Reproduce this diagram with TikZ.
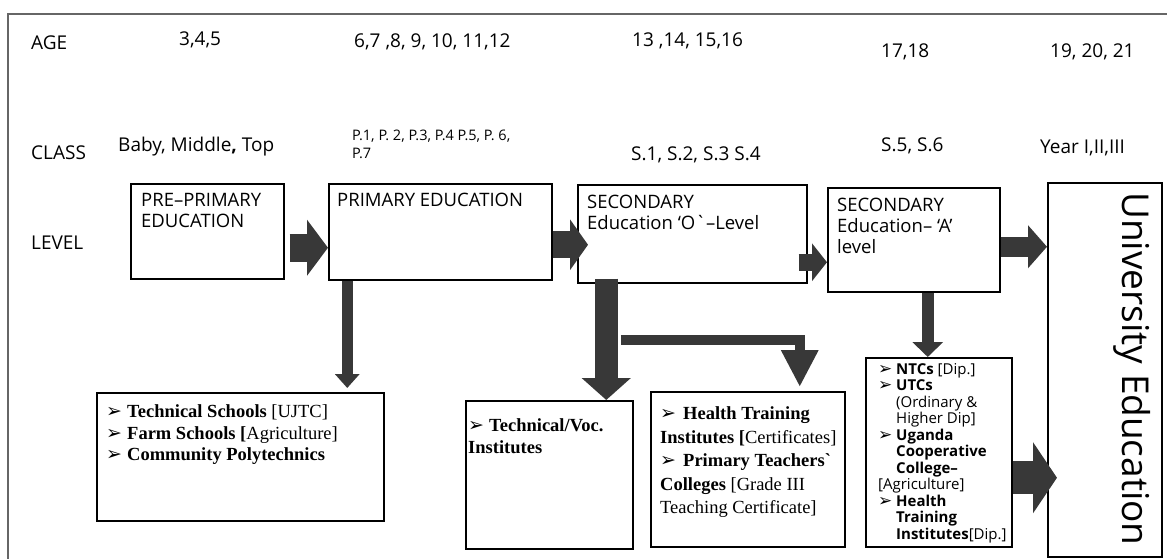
\documentclass[tikz,border=0pt]{standalone}
\usepackage{fontspec}
\setmainfont{Open Sans}[Ligatures=TeXOff]
\newfontfamily\timesfont{Liberation Serif}[Ligatures=TeXOff]
\newfontfamily\bulfont{DejaVu Sans}
\usetikzlibrary{arrows.meta,positioning}
\definecolor{arrowgray}{gray}{0.22}
\definecolor{framegray}{gray}{0.4}
\newcommand\bul[2][18pt]{\makebox[#1][l]{\bulfont\fontsize{#2}{#2}\selectfont ➢}}
\tikzset{
  lvlbox/.style={draw, line width=1.5pt, inner sep=0pt, anchor=north west},
  rowlabel/.style={anchor=west, inner sep=0pt, font=\fontsize{19}{20}\selectfont},
  boxtext/.style={align=left, inner sep=0pt, font=\fontsize{18.5}{21}\selectfont},
  serifbox/.style={align=left, inner sep=0pt, font=\timesfont\fontsize{18.5}{21.5}\selectfont},
  fat/.style n args={3}{arrowgray, line width=#1, -{Triangle[length=#2, width=#3]}},
}

\begin{document}
\begin{tikzpicture}[x=1pt, y=-1pt]
        \useasboundingbox (0,0) rectangle (1167,559);
        % Frame
        \draw[framegray, line width=1.2pt] (1167,14) -- (8,14) -- (8,559);

        % Ages
        \node[rowlabel] (age) at (31,43) {AGE};
        \node[rowlabel] (age-pre) at (179,40) {3,4,5};
        \node[rowlabel] (age-pri) at (354,42) {6,7 ,8, 9, 10, 11,12};
        \node[rowlabel] (age-o) at (632,41) {13 ,14, 15,16};
        \node[rowlabel] (age-a) at (881,52) {17,18};
        \node[rowlabel] (age-uni) at (1050,52) {19, 20, 21};

        % Classes
        \node[rowlabel] (class) at (31,153) {CLASS};
        \node[rowlabel] (cls-pre) at (118,147) {Baby, Middle\textbf{,} Top};
        \node[anchor=north west, align=left, inner sep=0pt, font=\fontsize{14.5}{18}\selectfont] (cls-pri) at (352,130) {P.1, P. 2, P.3, P.4 P.5, P. 6,\\P.7};
        \node[rowlabel] (cls-o) at (631,155) {S.1, S.2, S.3 S.4};
        \node[rowlabel] (cls-a) at (881,146) {S.5, S.6};
        \node[rowlabel] (cls-uni) at (1040,148) {Year I,II,III};

        % The levels
        \node[rowlabel] (level) at (31,243) {LEVEL};
        \node[lvlbox, minimum width=153pt, minimum height=95pt] (pre) at (130,183) {};
        \node[boxtext, below right=10pt and 11pt of pre.north west] (pre-t) {PRE–PRIMARY\\EDUCATION};
        \node[lvlbox, minimum width=223pt, minimum height=96pt] (pri) at (328,183) {};
        \node[boxtext, below right=10pt and 9pt of pri.north west] (pri-t) {PRIMARY EDUCATION};
        \node[lvlbox, minimum width=229pt, minimum height=98pt] (olev) at (577,184) {};
        \node[boxtext, below right=11pt and 10pt of olev.north west] (olev-t) {SECONDARY\\Education ‘O`–Level};
        \node[lvlbox, minimum width=172pt, minimum height=104pt] (alev) at (827,187) {};
        \node[boxtext, below right=11pt and 10pt of alev.north west] (alev-t) {SECONDARY\\Education– ‘A’\\level};
        \node[lvlbox, minimum width=114pt, minimum height=374pt] (univ) at (1047,182) {};
        \node[rotate=-90, inner sep=0pt, font=\fontsize{37}{37}\selectfont] (univ-t) at (1132,369) {University Education};

        % The institutions
        \node[lvlbox, minimum width=287pt, minimum height=128pt] (tech) at (96,392) {};
        \node[serifbox, below right=12.5pt and 10pt of tech.north west] (tech-t) {\bul[21pt]{19}\textbf{Technical Schools} [UJTC]\\ \bul[21pt]{19}\textbf{Farm Schools [}Agriculture]\\ \bul[21pt]{19}\textbf{Community Polytechnics}};
        \node[lvlbox, minimum width=167pt, minimum height=148pt] (tvoc) at (465,400) {};
        \node[serifbox, below right=18.5pt and 3pt of tvoc.north west] (tvoc-t) {\bul[21pt]{19}\textbf{Technical/Voc.}\\ \textbf{Institutes}};
        \node[lvlbox, minimum width=194pt, minimum height=155pt] (hti) at (650,391) {};
        \node[serifbox, font=\timesfont\fontsize{18.5}{23.5}\selectfont, below right=15.5pt and 10pt of hti.north west] (hti-t) {\bul[23pt]{19}\textbf{Health Training}\\ \textbf{Institutes [}Certificates]\\ \bul[23pt]{19}\textbf{Primary Teachers`}\\ \textbf{Colleges} [Grade III\\ Teaching Certificate]};
        \node[lvlbox, minimum width=146pt, minimum height=189pt] (ntc) at (865,357) {};
        \node[align=left, inner sep=0pt, font=\fontsize{15}{16.5}\selectfont, below right=6pt and 13pt of ntc.north west] (ntc-t) {\bul{17}\textbf{NTCs} [Dip.]\\ \bul{17}\textbf{UTCs}\\ \hspace*{18pt}(Ordinary \&\\ \hspace*{18pt}Higher Dip]\\ \bul{17}\textbf{Uganda}\\ \hspace*{18pt}\textbf{Cooperative}\\ \hspace*{18pt}\textbf{College–}\\ {[}Agriculture]\\ \bul{17}\textbf{Health}\\ \hspace*{18pt}\textbf{Training}\\ \hspace*{18pt}\textbf{Institutes}[Dip.]};

        % Arrows along the levels
        \coordinate (a1) at ([xshift=5pt,yshift=-16.5pt]pre.east);
        \draw[fat={28pt}{21pt}{55pt}] (a1) -- (a1 -| pri.west);
        \coordinate (a2) at ([yshift=-13pt]pri.east);
        \draw[fat={27pt}{18pt}{50pt}, shorten >=-11pt] (a2) -- (a2 -| olev.west);
        \coordinate (a3) at ([xshift=-9pt,yshift=-28.5pt]olev.east);
        \draw[fat={17pt}{15pt}{37pt}] (a3) -- (a3 -| alev.west);
        \coordinate (a4) at ([yshift=-7pt]alev.east);
        \draw[fat={20pt}{19pt}{42pt}] (a4) -- (a4 -| univ.west);
        \coordinate (a5) at ([yshift=-25.5pt]ntc.east);
        \draw[fat={33pt}{24pt}{70pt}, shorten >=-10pt] (a5) -- (a5 -| univ.west);

        % Arrows down to the institutions
        \coordinate (d1) at ([xshift=-93pt]pri.south);
        \draw[fat={11pt}{14pt}{24pt}, shorten >=4pt] (d1) -- (d1 |- tech.north);
        \coordinate (d2) at ([xshift=-86pt,yshift=5pt]olev.south);
        \draw[fat={23pt}{22pt}{48pt}] (d2) -- (d2 |- tvoc.north);
        \coordinate (fork) at ([xshift=-71.5pt,yshift=-56pt]olev.south);
        \coordinate (d3) at ([xshift=52pt]hti.north);
        \draw[fat={10pt}{37pt}{35pt}, shorten >=4pt] (fork) -| (d3);
        \coordinate (d4) at ([xshift=14pt]alev.south);
        \draw[fat={12pt}{15pt}{30pt}] (d4) -- (d4 |- ntc.north);
\end{tikzpicture}
\end{document}
